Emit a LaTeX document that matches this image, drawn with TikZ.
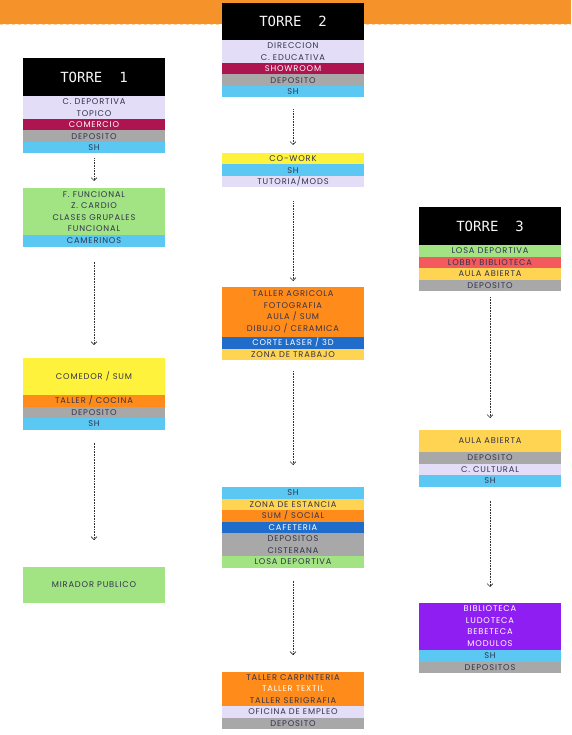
\documentclass[tikz,border=0pt]{standalone}
\usepackage{fontspec}
\setmainfont{Poppins}[LetterSpace=10]
\newfontfamily\towerfont{DejaVu Sans Mono}
\usetikzlibrary{arrows.meta,positioning}
\definecolor{BandOrange}{HTML}{F5922A}
\definecolor{RowText}   {HTML}{33334D}
\definecolor{Lavender}  {HTML}{E3DDF7}
\definecolor{Crimson}   {HTML}{AD1450}
\definecolor{MidGray}   {HTML}{A8A8A8}
\definecolor{SkyBlue}   {HTML}{5AC8F2}
\definecolor{LeafGreen} {HTML}{A2E384}
\definecolor{Lemon}     {HTML}{FFF23C}
\definecolor{Tangerine} {HTML}{FF8C1A}
\definecolor{Golden}    {HTML}{FFD452}
\definecolor{RoyalBlue} {HTML}{1F6CCB}
\definecolor{Coral}     {HTML}{F25A5E}
\definecolor{Violet}    {HTML}{8F1EF2}

\begin{document}
\begin{tikzpicture}[x=1pt,y=-1pt,
  tower/.style={fill=black,text=white!92!gray,
    font=\towerfont\fontsize{14}{14}\selectfont,
    minimum width=142pt,minimum height=38pt,inner sep=0pt,outer sep=0pt},
  row/.style={fill=#1,text=RowText,font=\fontsize{8.3}{11.5}\selectfont,
    minimum width=142pt,minimum height=11.5pt,inner sep=0pt,outer sep=0pt,
    align=center},
  flow/.style={densely dotted,semithick,draw=black!80,
    -{Straight Barb[length=3pt,width=6pt]}}]
  \useasboundingbox (0,0) rectangle (571,735);
  % Top band
  \fill[BandOrange] (0,0) rectangle (571,24);
  \draw[BandOrange!45!white,dashed] (0,24.5) -- (571,24.5);
  % Torre 1
  \node[tower,anchor=north] (T1) at (94,58) {TORRE\ \ 1};
  \node[row=Lavender,below=0pt of T1] (A1) {C. DEPORTIVA};
  \node[row=Lavender,below=0pt of A1] (A2) {TOPICO};
  \node[row=Crimson,text=white,below=0pt of A2] (A3) {COMERCIO};
  \node[row=MidGray,below=0pt of A3] (A4) {DEPOSITO};
  \node[row=SkyBlue,below=0pt of A4] (A5) {SH};
  \node[row=LeafGreen,minimum height=47pt,anchor=north] (B1) at (94,188)
    {F. FUNCIONAL\\Z. CARDIO\\CLASES GRUPALES\\FUNCIONAL};
  \node[row=SkyBlue,below=0pt of B1] (B2) {CAMERINOS};
  \node[row=Lemon,minimum height=37pt,anchor=north] (C1) at (94,358)
    {COMEDOR / SUM};
  \node[row=Tangerine,below=0pt of C1] (C2) {TALLER / COCINA};
  \node[row=MidGray,below=0pt of C2] (C3) {DEPOSITO};
  \node[row=SkyBlue,below=0pt of C3] (C4) {SH};
  \node[row=LeafGreen,minimum height=36pt,anchor=north] (D1) at (94,567)
    {MIRADOR PUBLICO};
  % Torre 2
  \node[tower,anchor=north,minimum height=37pt] (T2) at (293,3) {TORRE\ \ 2};
  \node[row=Lavender,below=0pt of T2] (P1) {DIRECCION};
  \node[row=Lavender,below=0pt of P1] (P2) {C. EDUCATIVA};
  \node[row=Crimson,text=white,below=0pt of P2] (P3) {SHOWROOM};
  \node[row=MidGray,below=0pt of P3] (P4) {DEPOSITO};
  \node[row=SkyBlue,below=0pt of P4] (P5) {SH};
  \node[row=Lemon,anchor=north] (E1) at (293,153) {CO-WORK};
  \node[row=SkyBlue,below=0pt of E1] (E2) {SH};
  \node[row=Lavender,below=0pt of E2] (E3) {TUTORIA/MODS};
  \node[row=Tangerine,minimum height=50pt,anchor=north] (F1) at (293,287)
    {TALLER AGRICOLA\\FOTOGRAFIA\\AULA / SUM\\DIBUJO / CERAMICA};
  \node[row=RoyalBlue,text=white,below=0pt of F1] (F2) {CORTE LASER / 3D};
  \node[row=Golden,below=0pt of F2] (F3) {ZONA DE TRABAJO};
  \node[row=SkyBlue,anchor=north] (G1) at (293,487) {SH};
  \node[row=Golden,below=0pt of G1] (G2) {ZONA DE ESTANCIA};
  \node[row=Tangerine,below=0pt of G2] (G3) {SUM / SOCIAL};
  \node[row=RoyalBlue,text=white,below=0pt of G3] (G4) {CAFETERIA};
  \node[row=MidGray,minimum height=23pt,below=0pt of G4] (G5)
    {DEPOSITOS\\CISTERANA};
  \node[row=LeafGreen,below=0pt of G5] (G6) {LOSA DEPORTIVA};
  \node[row=Tangerine,minimum height=34pt,anchor=north] (H1) at (293,672)
    {TALLER CARPINTERIA\\{\color{white}TALLER TEXTIL}\\TALLER SERIGRAFIA};
  \node[row=Lavender,below=0pt of H1] (H2) {OFICINA DE EMPLEO};
  \node[row=MidGray,below=0pt of H2] (H3) {DEPOSITO};
  % Torre 3
  \node[tower,anchor=north] (T3) at (490,207) {TORRE\ \ 3};
  \node[row=LeafGreen,below=0pt of T3] (Q1) {LOSA DEPORTIVA};
  \node[row=Coral,below=0pt of Q1] (Q2) {LOBBY BIBLIOTECA};
  \node[row=Golden,below=0pt of Q2] (Q3) {AULA ABIERTA};
  \node[row=MidGray,below=0pt of Q3] (Q4) {DEPOSITO};
  \node[row=Golden,minimum height=22pt,anchor=north] (J1) at (490,430)
    {AULA ABIERTA};
  \node[row=MidGray,below=0pt of J1] (J2) {DEPOSITO};
  \node[row=Lavender,below=0pt of J2] (J3) {C. CULTURAL};
  \node[row=SkyBlue,below=0pt of J3] (J4) {SH};
  \node[row=Violet,text=white,minimum height=35pt,anchor=north] (K1)
    at (490,603) {BIBLIOTECA\\LUDOTECA\\BEBETECA};
  \node[row=Violet,text=white,minimum height=12pt,below=0pt of K1] (K2)
    {MODULOS};
  \node[row=SkyBlue,below=0pt of K2] (K3) {SH};
  \node[row=MidGray,below=0pt of K3] (K4) {DEPOSITOS};
  % Flow arrows
  \draw[flow,shorten <=5pt,shorten >=7pt] (A5.south) -- (B1.north);
  \draw[flow,shorten <=15pt,shorten >=13pt] (B2.south) -- (C1.north);
  \draw[flow,shorten <=13pt,shorten >=27pt] (C4.south) -- (D1.north);
  \draw[flow,shorten <=12pt,shorten >=8pt] (P5.south) -- (E1.north);
  \draw[flow,shorten <=14pt,shorten >=6pt] (E3.south) -- (F1.north);
  \draw[flow,shorten <=11pt,shorten >=22pt] (F3.south) -- (G1.north);
  \draw[flow,shorten <=13pt,shorten >=17pt] (G6.south) -- (H1.north);
  \draw[flow,shorten <=6pt,shorten >=12pt] (Q4.south) -- (J1.north);
  \draw[flow,shorten <=14pt,shorten >=16pt] (J4.south) -- (K1.north);
\end{tikzpicture}
\end{document}
